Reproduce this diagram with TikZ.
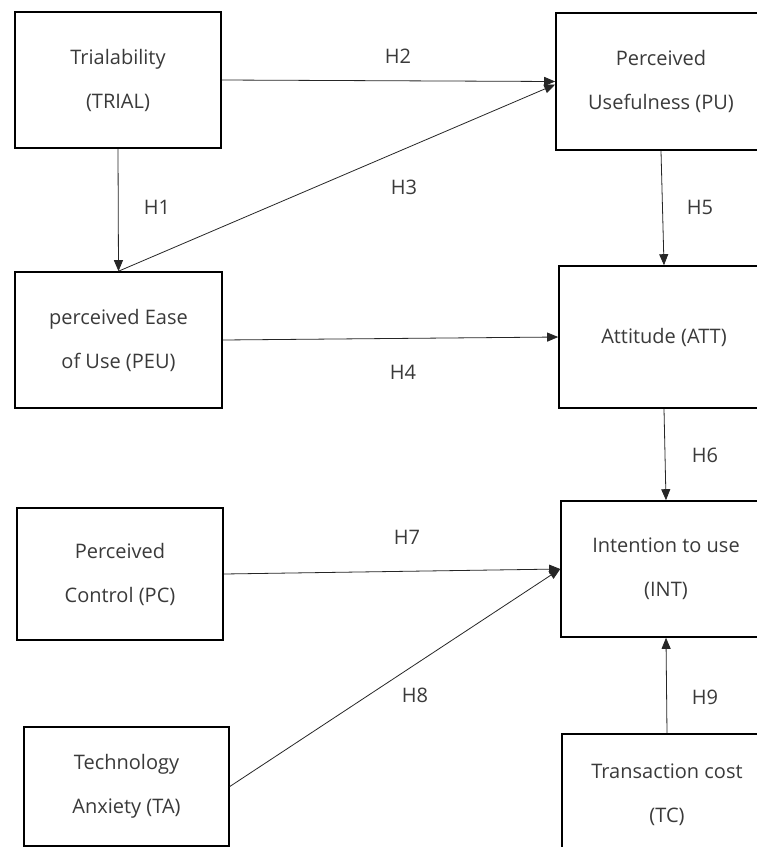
\documentclass[tikz,border=0pt]{standalone}
\usepackage{fontspec}
\setmainfont{Open Sans}
\usepackage{xcolor}
\usetikzlibrary{arrows.meta}
\definecolor{txtgray}{HTML}{3A3A3A}
\tikzset{
  box/.style={draw=black, line width=1.6pt, align=center, text=txtgray,
    font=\fontsize{20}{44}\selectfont, inner sep=0pt},
  link/.style={draw=black!85, line width=0.8pt, -{Triangle[length=11pt,width=9pt]}},
  hyp/.style={text=txtgray, font=\fontsize{20}{24}\selectfont, inner sep=0pt}
}
\begin{document}
\begin{tikzpicture}[x=1pt, y=-1pt]
    \clip (0,0) rectangle (757,847);
    \fill[white] (0,0) rectangle (757,847);

    % Constructs
    \node[box, minimum width=206pt, minimum height=136pt] (trial) at (118,80) {Trialability\\(TRIAL)};
    \node[box, minimum width=210pt, minimum height=137pt] (pu) at (661,81.5) {Perceived\\Usefulness (PU)};
    \node[box, minimum width=207pt, minimum height=136pt] (peu) at (118.5,340) {perceived Ease\\of Use (PEU)};
    \node[box, minimum width=210pt, minimum height=142pt] (att) at (664,337) {Attitude (ATT)};
    \node[box, minimum width=206pt, minimum height=132pt] (pc) at (120,574) {Perceived\\Control (PC)};
    \node[box, minimum width=210pt, minimum height=136pt] (int) at (666,569) {Intention to use\\(INT)};
    \node[box, minimum width=205pt, minimum height=119pt] (ta) at (126.5,786.5) {Technology\\Anxiety (TA)};
    \node[box, minimum width=210pt, minimum height=122pt] (tc) at (667,795) {Transaction cost\\(TC)};

    % Paths
    \draw[link] (trial.south) -- (peu.north);
    \draw[link] (trial.east) -- (pu.west);
    \draw[link] (peu.north) -- ([yshift=-3pt]pu.west);
    \draw[link] (peu.east) -- (att.west);
    \draw[link] (pu.south) -- (att.north);
    \draw[link] (att.south) -- (int.north);
    \draw[link] (pc.east) -- (int.west);
    \draw[link] (ta.east) -- (int.west);
    \draw[link] (tc.north) -- (int.south);

    % Hypothesis labels
    \foreach \h/\x/\y in {H1/157/207, H2/398/56, H3/404/187, H4/403/372, H5/700/207,
                          H6/705/455, H7/407/537, H8/415/695, H9/705/697} {
        \node[hyp] (\h) at (\x,\y) {\h};
    }
\end{tikzpicture}
\end{document}
